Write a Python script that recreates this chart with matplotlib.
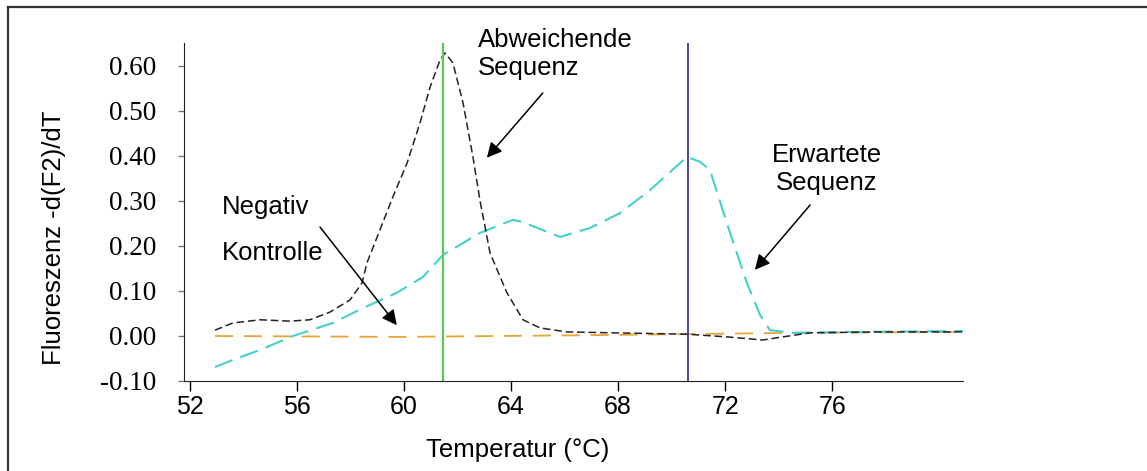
import matplotlib.pyplot as plt
from matplotlib.lines import Line2D

# temperature (°C) and -d(F2)/dT
t_abw = [52.95, 53.62, 54.63, 55.75, 56.49, 57.24, 57.99, 58.44, 58.62, 59.11, 59.59,
         60.12, 60.60, 60.98, 61.35, 61.54, 61.83, 62.21, 62.58, 62.84, 63.22, 63.85,
         64.45, 65.08, 66.09, 67.81, 70.57, 72.07, 73.41, 73.93, 75.17, 77.78, 80.88]
v_abw = [0.013, 0.029, 0.036, 0.033, 0.036, 0.053, 0.080, 0.118, 0.162, 0.236, 0.309,
         0.384, 0.473, 0.553, 0.613, 0.629, 0.607, 0.518, 0.398, 0.302, 0.184, 0.096,
         0.036, 0.018, 0.009, 0.007, 0.004, -0.002, -0.009, -0.004, 0.007, 0.009, 0.009]

t_erw = [52.95, 53.62, 54.63, 55.86, 57.35, 58.47, 59.74, 60.71, 61.46, 62.84, 64.07,
         64.45, 65.83, 66.95, 68.07, 69.19, 70.57, 71.06, 71.43, 72.18, 72.81, 73.30,
         73.67, 74.53, 76.66, 80.88]
v_erw = [-0.069, -0.053, -0.031, 0.0, 0.029, 0.062, 0.096, 0.131, 0.180, 0.229, 0.258,
         0.253, 0.220, 0.240, 0.273, 0.324, 0.398, 0.387, 0.369, 0.229, 0.118, 0.047,
         0.013, 0.007, 0.009, 0.011]

t_neg = [52.95, 59.86, 67.32, 74.79, 80.88]
v_neg = [0.0, -0.002, 0.002, 0.007, 0.009]

tm_abw = 61.46
tm_erw = 70.61

x_ticks = [52, 56, 60, 64, 68, 72, 76]
y_ticks = [-0.10, 0.00, 0.10, 0.20, 0.30, 0.40, 0.50, 0.60]

sans = 'Liberation Sans'
serif = 'Liberation Serif'

fig = plt.figure(figsize=(11.47, 4.71), dpi=100)
ax = fig.add_axes([0.1604, 0.1911, 0.6792, 0.7176])

ax.plot(t_neg, v_neg, color='#e6a535', lw=1.3, dashes=(10, 6))
ax.plot(t_erw, v_erw, color='#45d0cc', lw=1.5, dashes=(9, 4))
ax.plot(t_abw, v_abw, color='#2a1e2c', lw=1.1, dashes=(5, 2.5))
ax.axvline(tm_abw, color='#5cc85c', lw=1.6)
ax.axvline(tm_erw, color='#3c3c8c', lw=1.3)

ax.set_xlim(51.79, 80.88)
ax.set_ylim(-0.10, 0.651)
ax.set_xticks(x_ticks)
ax.set_xticklabels([str(t) for t in x_ticks], family=sans, fontsize=18)
ax.set_yticks(y_ticks)
ax.set_yticklabels(['%.2f' % v for v in y_ticks], family=serif, fontsize=19.5)
ax.tick_params(axis='x', direction='out', length=7, width=1, pad=3)
ax.tick_params(axis='y', direction='out', length=4, width=1, color='#777777', pad=16)
for s in ['top', 'right']:
    ax.spines[s].set_visible(False)
ax.spines['left'].set_color('#222222')
ax.spines['bottom'].set_color('#222222')

fig.text(0.047, 0.495, 'Fluoreszenz -d(F2)/dT', rotation=90, family=sans,
         fontsize=18.5, ha='center', va='center')
fig.text(0.451, 0.045, 'Temperatur (°C)', family=sans, fontsize=18.5,
         ha='center', va='center')

arrow = dict(arrowstyle='-|>,head_length=0.9,head_width=0.45', color='black', lw=1.1,
             shrinkA=0, shrinkB=0)
ax.annotate('', xy=(63.10, 0.396), xytext=(65.19, 0.54), arrowprops=arrow,
            annotation_clip=False)
ax.annotate('', xy=(73.11, 0.147), xytext=(75.17, 0.291), arrowprops=arrow,
            annotation_clip=False)
ax.annotate('', xy=(59.74, 0.024), xytext=(56.87, 0.242), arrowprops=arrow,
            annotation_clip=False)

ax.text(62.77, 0.685, 'Abweichende\nSequenz', family=sans, fontsize=18.5,
        ha='left', va='top', clip_on=False)
ax.text(75.80, 0.428, 'Erwartete\nSequenz', family=sans, fontsize=18.5,
        ha='center', va='top', multialignment='center', clip_on=False)
ax.text(53.21, 0.314, 'Negativ', family=sans, fontsize=18.5, ha='left', va='top')
ax.text(53.21, 0.212, 'Kontrolle', family=sans, fontsize=18.5, ha='left', va='top')

# outer frame (top and left edge of the scanned box)
fig.add_artist(Line2D([8 / 1147, 1], [1 - 7 / 471, 1 - 7 / 471], color='#333333', lw=1.6))
fig.add_artist(Line2D([8 / 1147, 8 / 1147], [0, 1 - 7 / 471], color='#333333', lw=1.6))

fig.savefig('out.png', dpi=100)
